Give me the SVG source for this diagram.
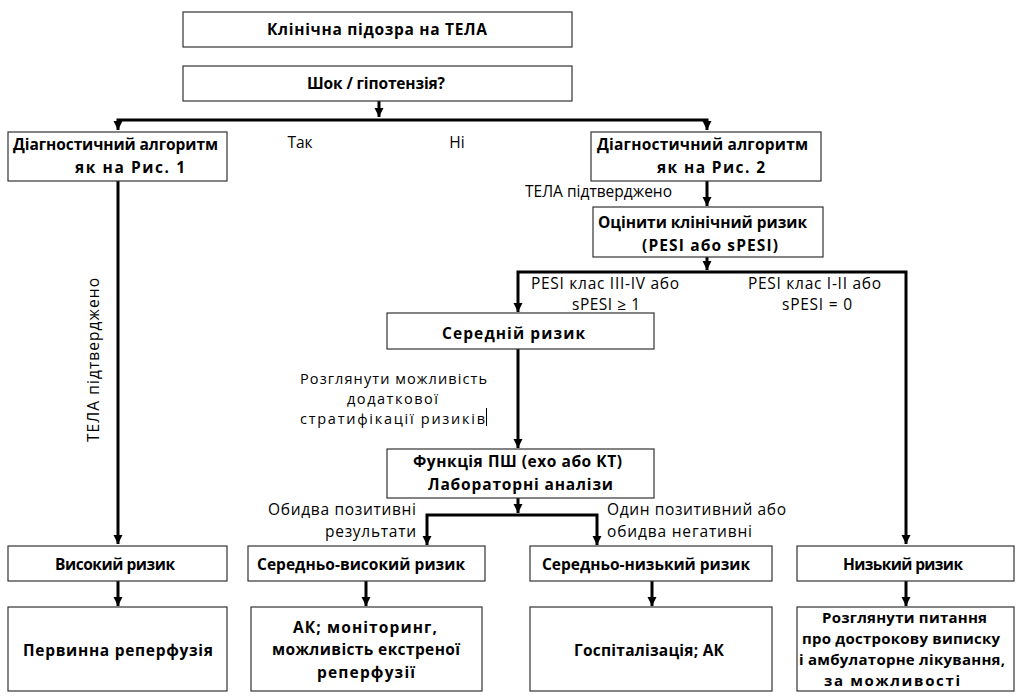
<svg xmlns="http://www.w3.org/2000/svg" width="1024" height="697" viewBox="0 0 1024 697">
<defs>
<marker id="ah" markerUnits="userSpaceOnUse" markerWidth="10" markerHeight="10" refX="9" refY="5" orient="auto-start-reverse">
<path d="M0,0.5 L9,5 L0,9.5 Z" fill="#000"/>
</marker>
<style>
.box{fill:#fff;stroke:#333;stroke-width:1.2}
.t{font-family:"Open Sans","Noto Sans",sans-serif;font-size:15.5px;fill:#000;text-anchor:middle;font-weight:bold}
.s{font-size:15px}
.l{font-family:"Open Sans","Noto Sans",sans-serif;font-size:15.5px;fill:#000}
.m{font-size:14.5px}
.c{fill:none;stroke:#000;stroke-width:3}
</style>
</defs>
<rect width="1024" height="697" fill="#fff"/>
<g id="connectors">
<path class="c" d="M379 101 V117" marker-end="url(#ah)"/>
<path class="c" d="M118 130 V120 H707 V130" marker-start="url(#ah)" marker-end="url(#ah)"/>
<path class="c" d="M118 181 V544" marker-end="url(#ah)"/>
<path class="c" d="M707 181 V206" marker-end="url(#ah)"/>
<path class="c" d="M707 257 V270" marker-end="url(#ah)"/>
<path class="c" d="M518 312 V272 H906 V544" marker-start="url(#ah)" marker-end="url(#ah)"/>
<path class="c" d="M518 349 V448" marker-end="url(#ah)"/>
<path class="c" d="M518 498 V513" marker-end="url(#ah)"/>
<path class="c" d="M427 545 V515 H597 V545" marker-start="url(#ah)" marker-end="url(#ah)"/>
<path class="c" d="M118 581 V606" marker-end="url(#ah)"/>
<path class="c" d="M366 581 V606" marker-end="url(#ah)"/>
<path class="c" d="M652 581 V606" marker-end="url(#ah)"/>
<path class="c" d="M906 581 V606" marker-end="url(#ah)"/>
<text class="l" x="300" y="148" text-anchor="middle">Так</text>
<text class="l" x="457" y="148" text-anchor="middle">Ні</text>
<text class="l" x="525" y="197" textLength="147">ТЕЛА підтверджено</text>
<text class="l" transform="translate(99 442) rotate(-90)" textLength="164">ТЕЛА підтверджено</text>
<text class="l" x="531" y="289" textLength="148">PESI клас III-IV або</text>
<text class="l" x="572" y="310" textLength="68">sPESI ≥ 1</text>
<text class="l" x="748" y="289" textLength="133">PESI клас I-II або</text>
<text class="l" x="782" y="310" textLength="70">sPESI = 0</text>
<text class="l m" x="300" y="384" textLength="187">Розглянути можливість</text>
<text class="l m" x="347" y="404" textLength="91">додаткової</text>
<text class="l m" x="300" y="424" textLength="185">стратифікації ризиків</text>
<line x1="486.5" y1="408" x2="486.5" y2="426" stroke="#000" stroke-width="1"/>
<text class="l" x="268" y="515" textLength="148">Обидва позитивні</text>
<text class="l" x="325" y="537" textLength="91">результати</text>
<text class="l" x="607" y="515" textLength="179">Один позитивний або</text>
<text class="l" x="607" y="537" textLength="145">обидва негативні</text>
</g>
<g id="n1"><rect class="box" x="183" y="12" width="389" height="35"/><text class="t" x="377" y="35" textLength="220">Клінічна підозра на ТЕЛА</text></g>
<g id="n2"><rect class="box" x="183" y="66" width="389" height="35"/><text class="t" x="376" y="89" textLength="138">Шок / гіпотензія?</text></g>
<g id="n3"><rect class="box" x="8" y="132" width="219" height="49"/><text class="t" x="115.5" y="150" textLength="205">Діагностичний алгоритм</text><text class="t" x="130" y="173" textLength="110">як на Рис. 1</text></g>
<g id="n4"><rect class="box" x="591" y="132" width="230" height="49"/><text class="t" x="702.5" y="150" textLength="211">Діагностичний алгоритм</text><text class="t" x="711" y="173" textLength="108">як на Рис. 2</text></g>
<g id="n5"><rect class="box" x="593" y="207" width="230" height="50"/><text class="t" x="702.5" y="228" textLength="209">Оцінити клінічний ризик</text><text class="t" x="710" y="251" textLength="136">(PESI або sPESI)</text></g>
<g id="n6"><rect class="box" x="387" y="313" width="267" height="36"/><text class="t" x="513.5" y="339" textLength="143">Середній ризик</text></g>
<g id="n7"><rect class="box" x="387" y="449" width="267" height="49"/><text class="t" x="517.5" y="467" textLength="209">Функція ПШ (ехо або КТ)</text><text class="t" x="520.5" y="490" textLength="185">Лабораторні аналізи</text></g>
<g id="n8"><rect class="box" x="8" y="546" width="219" height="35"/><text class="t" x="115" y="570" textLength="120">Високий ризик</text></g>
<g id="n9"><rect class="box" x="248" y="546" width="237" height="35"/><text class="t" x="361" y="570" textLength="208">Середньо-високий ризик</text></g>
<g id="n10"><rect class="box" x="530" y="546" width="242" height="35"/><text class="t" x="646" y="570" textLength="208">Середньо-низький ризик</text></g>
<g id="n11"><rect class="box" x="797" y="546" width="217" height="35"/><text class="t" x="903" y="570" textLength="120">Низький ризик</text></g>
<g id="n12"><rect class="box" x="8" y="607" width="219" height="84"/><text class="t" x="118" y="656" textLength="190">Первинна реперфузія</text></g>
<g id="n13"><rect class="box" x="251" y="607" width="231" height="84"/><text class="t" x="365" y="633" textLength="144">АК; моніторинг,</text><text class="t" x="366" y="655" textLength="188">можливість екстреної</text><text class="t" x="366" y="678" textLength="98">реперфузії</text></g>
<g id="n14"><rect class="box" x="530" y="607" width="242" height="84"/><text class="t" x="649" y="656" textLength="150">Госпіталізація;  АК</text></g>
<g id="n15"><rect class="box" x="797" y="607" width="217" height="84"/><text class="t s" x="904.5" y="623" textLength="165">Розглянути питання</text><text class="t s" x="901" y="644" textLength="198">про дострокову виписку</text><text class="t s" x="902" y="665" textLength="206">і амбулаторне лікування,</text><text class="t s" x="892" y="686" textLength="136">за можливості</text></g>
</svg>
